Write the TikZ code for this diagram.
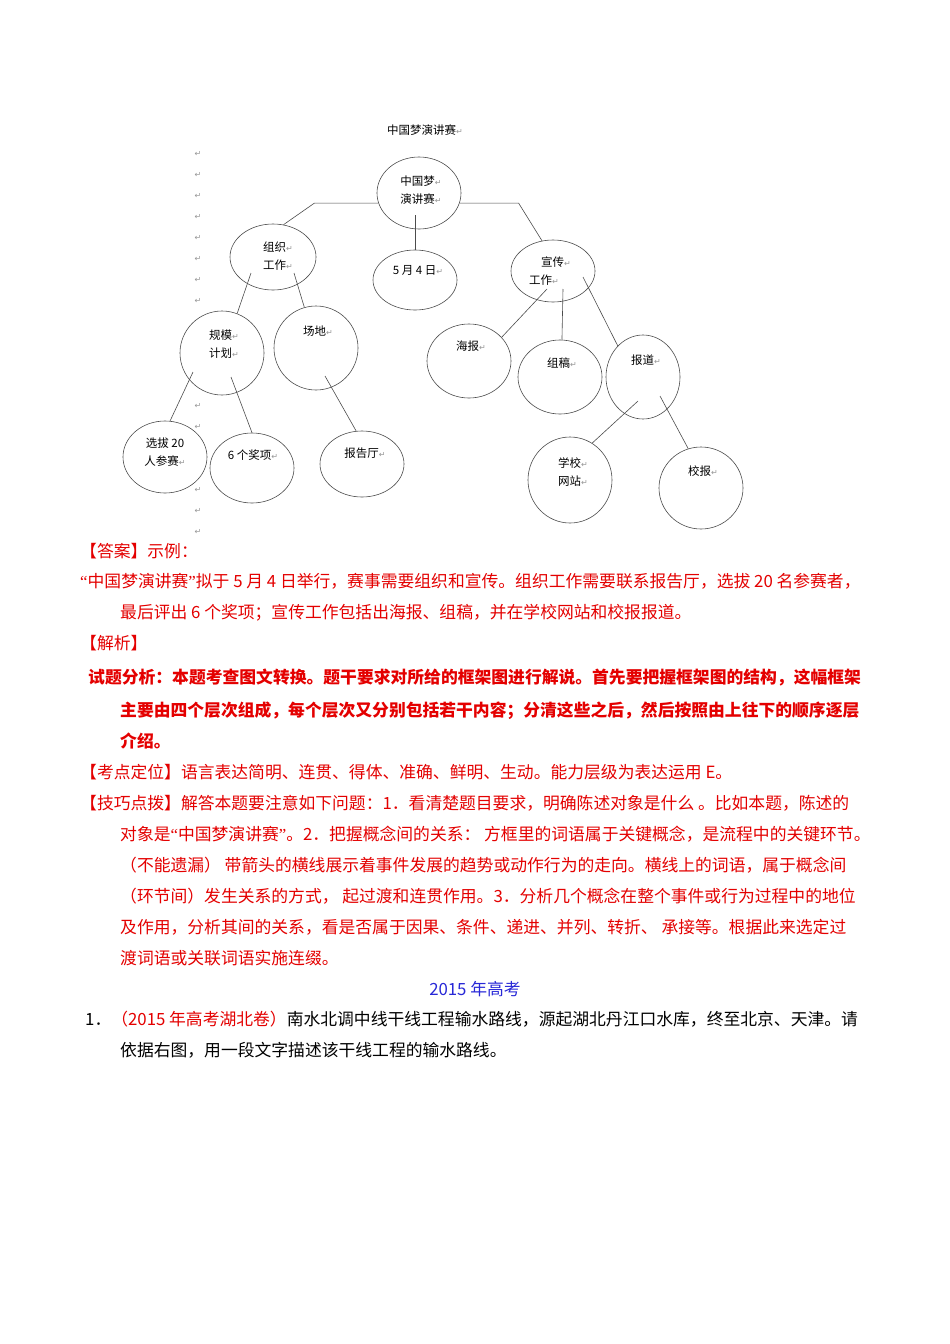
\documentclass[tikz,border=0pt]{standalone}
\usepackage{fontspec}
\setmainfont{Noto Sans CJK SC}
\newfontfamily\symfont{DejaVu Sans}
\newfontfamily\latinfont{Liberation Serif}
\usetikzlibrary{shapes.geometric}
\definecolor{ansred}{RGB}{228,0,0}
\definecolor{yearblue}{RGB}{40,40,215}
\definecolor{markgray}{RGB}{150,150,150}
\newcommand{\retmark}{{\color{markgray}\symfont\fontsize{8}{8}\selectfont ↵}}
\newcommand{\openq}{{\latinfont “}}
\newcommand{\closeq}{{\latinfont ”}}

\begin{document}
\begin{tikzpicture}[x=1pt,y=-1pt,
  bubble/.style={ellipse,draw=black!70,fill=white,line width=0.6pt,inner sep=0pt},
  words/.style={font=\fontsize{11.5}{18}\selectfont,align=center,inner sep=0pt},
  body/.style={anchor=base west,inner sep=0pt,font=\fontsize{16.8}{20}\selectfont,text=ansred},
  link/.style={draw=black!70,line width=0.6pt}]
\useasboundingbox (0,0) rectangle (950,1344);
\fill[white] (0,0) rectangle (950,1344);

\node[words] (title) at (425,130) {中国梦演讲赛\retmark};
\foreach \y in {154,175,...,532}
  \node[inner sep=0pt] (m\y) at (198,\y) {\retmark};

\node[bubble,minimum width=84pt,minimum height=72pt] (root) at (419,193) {};
\node[bubble,minimum width=86pt,minimum height=66pt] (zuzhi) at (273,257) {};
\node[bubble,minimum width=84pt,minimum height=60pt] (date) at (415,280) {};
\node[bubble,minimum width=84pt,minimum height=62pt] (xuanchuan) at (553,271) {};
\node[bubble,minimum width=84pt,minimum height=84pt] (guimo) at (222,353) {};
\node[bubble,minimum width=84pt,minimum height=84pt] (changdi) at (316,348) {};
\node[bubble,minimum width=84pt,minimum height=72pt] (xuanba) at (165,457) {};
\node[bubble,minimum width=84pt,minimum height=70pt] (jiangxiang) at (252,468) {};
\node[bubble,minimum width=84pt,minimum height=66pt] (baogaoting) at (362,464) {};
\node[bubble,minimum width=84pt,minimum height=74pt] (haibao) at (469,361) {};
\node[bubble,minimum width=84pt,minimum height=74pt] (zugao) at (560,377) {};
\node[bubble,minimum width=74pt,minimum height=84pt] (baodao) at (643,377) {};
\node[bubble,minimum width=84pt,minimum height=86pt] (wangzhan) at (570,480) {};
\node[bubble,minimum width=84pt,minimum height=82pt] (xiaobao) at (701,488) {};

\draw[link] (root.194) -- ++(-64,0) -- (zuzhi.72);
\draw[link] (root.-14) -- ++(59,0) -- (xuanchuan.110);
\draw[link] ([shift={(-4,22)}]root.center) -- (date.north);
\draw[link] ([shift={(-22,16)}]zuzhi.center) -- (guimo.69);
\draw[link] ([shift={(21,16)}]zuzhi.center) -- (changdi.106);
\draw[link] ([shift={(-29,19)}]guimo.center) -- (xuanba.82);
\draw[link] ([shift={(9,24)}]guimo.center) -- (jiangxiang.north);
\draw[link] ([shift={(9,28)}]changdi.center) -- (baogaoting.100);
\draw[link] ([shift={(-6,18)}]xuanchuan.center) -- (haibao.36);
\draw[link] ([shift={(10,18)}]xuanchuan.center) -- (zugao.87);
\draw[link] ([shift={(30,6)}]xuanchuan.center) -- (baodao.129);
\draw[link] ([shift={(-5,24)}]baodao.center) -- (wangzhan.59);
\draw[link] ([shift={(17,19)}]baodao.center) -- (xiaobao.108);

\node[words] (troot) at (421,190) {中国梦\retmark\\演讲赛\retmark};
\node[words] (tzuzhi) at (278,256) {组织\retmark\\工作\retmark};
\node[words] (tdate) at (418,270) {5 月 4 日\retmark};
\node[words,align=left,anchor=west] (txuanchuan) at (529,271) {\hspace{12pt}宣传\retmark\\工作\retmark};
\node[words] (tguimo) at (224,344) {规模\retmark\\计划\retmark};
\node[words] (tchangdi) at (318,331) {场地\retmark};
\node[words] (txuanba) at (165,452) {选拔 20\\人参赛\retmark};
\node[words] (tjiangxiang) at (253,455) {6 个奖项\retmark};
\node[words] (tbaogaoting) at (365,453) {报告厅\retmark};
\node[words] (thaibao) at (471,346) {海报\retmark};
\node[words] (tzugao) at (562,363) {组稿\retmark};
\node[words] (tbaodao) at (646,360) {报道\retmark};
\node[words] (twangzhan) at (573,472) {学校\retmark\\网站\retmark};
\node[words] (txiaobao) at (703,471) {校报\retmark};

\node[body] (ans) at (80,557) {【答案】示例：};
\node[body] (ans1) at (80,587) {\openq 中国梦演讲赛\closeq 拟于 5 月 4 日举行，赛事需要组织和宣传。组织工作需要联系报告厅，选拔 20 名参赛者，};
\node[body] (ans2) at (120,618) {最后评出 6 个奖项；宣传工作包括出海报、组稿，并在学校网站和校报报道。};
\node[body] (jx) at (80,649) {【解析】};
\node[body,font={\fontsize{16.8}{20}\selectfont\bfseries}] (fx1) at (88,683) {试题分析：本题考查图文转换。题干要求对所给的框架图进行解说。首先要把握框架图的结构，这幅框架};
\node[body,font={\fontsize{16.8}{20}\selectfont\bfseries}] (fx2) at (120,716) {主要由四个层次组成，每个层次又分别包括若干内容；分清这些之后，然后按照由上往下的顺序逐层};
\node[body,font={\fontsize{16.8}{20}\selectfont\bfseries}] (fx3) at (120,747) {介绍。};
\node[body] (kd) at (80,778) {【考点定位】语言表达简明、连贯、得体、准确、鲜明、生动。能力层级为表达运用 E。};
\node[body] (jq1) at (80,809) {【技巧点拨】解答本题要注意如下问题：1．看清楚题目要求，明确陈述对象是什么 。比如本题，陈述的};
\node[body] (jq2) at (120,840) {对象是\openq 中国梦演讲赛\closeq 。2．把握概念间的关系： 方框里的词语属于关键概念，是流程中的关键环节。};
\node[body] (jq3) at (120,871) {（不能遗漏） 带箭头的横线展示着事件发展的趋势或动作行为的走向。横线上的词语，属于概念间};
\node[body] (jq4) at (120,902) {（环节间）发生关系的方式， 起过渡和连贯作用。3．分析几个概念在整个事件或行为过程中的地位};
\node[body] (jq5) at (120,933) {及作用，分析其间的关系，看是否属于因果、条件、递进、并列、转折、 承接等。根据此来选定过};
\node[body] (jq6) at (120,964) {渡词语或关联词语实施连缀。};
\node[body,anchor=base,text=yearblue] (year) at (475,995) {2015 年高考};
\node[body,text=black] (q1) at (85,1025) {1．\textcolor{ansred}{（2015 年高考湖北卷）}南水北调中线干线工程输水路线，源起湖北丹江口水库，终至北京、天津。请};
\node[body,text=black] (q2) at (120,1056) {依据右图，用一段文字描述该干线工程的输水路线。};
\end{tikzpicture}
\end{document}
